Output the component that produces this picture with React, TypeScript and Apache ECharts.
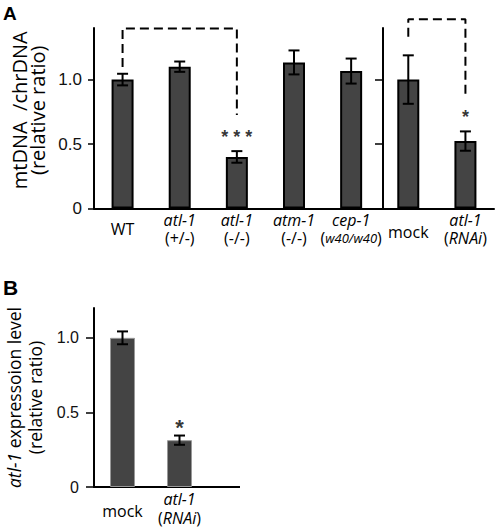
import React, { useEffect, useRef } from "react";
import * as echarts from "echarts";

// ---------- Panel A data ----------
const categoriesA = ["WT", "atl-1 (+/-)", "atl-1 (-/-)", "atm-1 (-/-)", "cep-1 (w40/w40)", "mock", "atl-1 (RNAi)"];
const valuesA = [1.0, 1.1, 0.4, 1.133, 1.066, 1.0, 0.523];
const errorsA = [0.045, 0.04, 0.045, 0.093, 0.097, 0.188, 0.075];
const starsA = ["", "", "* * *", "", "", "", "*"];
const bracketA1 = [[0, 1.097], [0, 1.397], [2, 1.397], [2, 0.725]];
const bracketA2 = [[5, 1.332], [5, 1.467], [6, 1.467], [6, 0.867]];
const ticksA = [0, 0.5, 1.0];

// ---------- Panel B data ----------
const categoriesB = ["mock", "atl-1 (RNAi)"];
const valuesB = [1.0, 0.314];
const errorsB = [0.043, 0.031];
const starsB = ["", "*"];
const ticksB = [0, 0.5, 1.0];

const SANS = "Open Sans";
const ARIAL = "Liberation Sans";

const labelRich: any = {
  it: { fontFamily: SANS, fontStyle: "italic", fontSize: 16, lineHeight: 18.5, color: "#000" },
  n: { fontFamily: SANS, fontSize: 16, lineHeight: 18.5, color: "#000" },
  sm: { fontFamily: SANS, fontStyle: "italic", fontSize: 13, lineHeight: 18.5, color: "#000" },
  wt: { fontFamily: SANS, fontSize: 16, lineHeight: 37, color: "#000" },
  mk: { fontFamily: SANS, fontSize: 16, lineHeight: 42, color: "#000" },
};

function catLabel(name: string): string {
  const m = name.match(/^(\S+)\s*\((.*)\)$/);
  if (!m) {
    return name === "WT" ? `{wt|${name}}` : `{mk|${name}}`;
  }
  const gene = m[1];
  const gt = m[2];
  if (gt === "w40/w40") return `{it|${gene}}\n{n|(}{sm|${gt}}{n|)}`;
  if (gt === "RNAi") return `{it|${gene}}\n{n|(}{it|${gt}}{n|)}`;
  return `{it|${gene}}\n{n|(${gt})}`;
}

function errRender(cap: number) {
  return (params: any, api: any) => {
    const x = api.value(0);
    const v = api.value(1);
    const e = api.value(2);
    const top = api.coord([x, v + e]);
    const bot = api.coord([x, v - e]);
    const style = { stroke: "#000", lineWidth: 2 };
    const h = cap / 2;
    return {
      type: "group",
      children: [
        { type: "line", shape: { x1: top[0], y1: top[1], x2: bot[0], y2: bot[1] }, style },
        { type: "line", shape: { x1: top[0] - h, y1: top[1], x2: top[0] + h, y2: top[1] }, style },
        { type: "line", shape: { x1: bot[0] - h, y1: bot[1], x2: bot[0] + h, y2: bot[1] }, style },
      ],
    };
  };
}

const tickFmt = (v: number) => (v === 0 ? "0" : v.toFixed(1));

export default function App() {
  const ref = useRef<HTMLDivElement>(null);
  useEffect(() => {
    if (!ref.current) return;
    const chart = echarts.init(ref.current, null, { renderer: "svg" });
    const gridA = { left: 94, top: 28, width: 400, height: 180.5 };
    const gridB = { left: 94, top: 308, width: 114, height: 179 };
    const option: any = {
      animation: false,
      backgroundColor: "#fff",
      grid: [gridA, gridB],
      xAxis: [
        {
          gridIndex: 0,
          type: "category",
          data: categoriesA,
          axisLine: { show: true, onZero: false, lineStyle: { color: "#000", width: 2 } },
          axisTick: { show: false },
          axisLabel: { interval: 0, margin: 2, formatter: (v: string) => catLabel(v), rich: labelRich },
        },
        {
          gridIndex: 1,
          type: "category",
          data: categoriesB,
          axisLine: { show: true, onZero: false, lineStyle: { color: "#000", width: 2 } },
          axisTick: { show: false },
          axisLabel: { interval: 0, margin: 3, formatter: (v: string) => catLabel(v), rich: labelRich },
        },
      ],
      yAxis: [
        {
          gridIndex: 0,
          type: "value",
          min: 0,
          max: 1.4,
          position: "left",
          axisLine: { show: true, lineStyle: { color: "#000", width: 2 } },
          axisTick: { show: true, length: 6, customValues: ticksA, lineStyle: { color: "#000", width: 1.5 } },
          axisLabel: {
            customValues: ticksA,
            formatter: tickFmt,
            margin: 12,
            fontFamily: ARIAL,
            fontSize: 17,
            color: "#111",
          },
          splitLine: { show: false },
          name: "mtDNA  /chrDNA\n(relative ratio)",
          nameLocation: "middle",
          nameRotate: 90,
          nameGap: 39,
          nameTextStyle: {
            fontFamily: SANS,
            fontSize: 20,
            lineHeight: 17.5,
            color: "#000",
            padding: [0, 0, 0, 16],
          },
        },
        {
          gridIndex: 0,
          type: "value",
          min: 0,
          max: 1.4,
          position: "right",
          offset: -111,
          axisLine: { show: true, lineStyle: { color: "#000", width: 2 } },
          axisTick: { show: true, inside: true, length: 8, customValues: [0.5, 1.0], lineStyle: { color: "#000", width: 1.5 } },
          axisLabel: { show: false },
          splitLine: { show: false },
        },
        {
          gridIndex: 1,
          type: "value",
          min: 0,
          max: 1.2,
          position: "left",
          axisLine: { show: true, lineStyle: { color: "#000", width: 2 } },
          axisTick: { show: true, length: 8, customValues: ticksB, lineStyle: { color: "#000", width: 1.5 } },
          axisLabel: {
            customValues: ticksB,
            formatter: tickFmt,
            margin: 15,
            fontFamily: ARIAL,
            fontSize: 16,
            color: "#111",
          },
          splitLine: { show: false },
          name: "{i|atl-1} expressoion level\n(relative ratio)",
          nameLocation: "middle",
          nameRotate: 90,
          nameGap: 49,
          nameTextStyle: {
            fontFamily: SANS,
            fontSize: 17.5,
            lineHeight: 21,
            color: "#000",
            rich: { i: { fontFamily: SANS, fontStyle: "italic", fontSize: 17.5, lineHeight: 21, color: "#000" } },
          },
        },
      ],
      series: [
        {
          type: "bar",
          xAxisIndex: 0,
          yAxisIndex: 0,
          data: valuesA,
          barWidth: 22,
          itemStyle: { color: "#444", borderColor: "#000", borderWidth: 2 },
          silent: true,
        },
        {
          type: "custom",
          xAxisIndex: 0,
          yAxisIndex: 0,
          renderItem: errRender(11),
          data: valuesA.map((v, i) => [i, v, errorsA[i]]),
          encode: { x: 0, y: 1 },
          z: 5,
          silent: true,
        },
        {
          type: "scatter",
          xAxisIndex: 0,
          yAxisIndex: 0,
          symbolSize: 1,
          itemStyle: { color: "rgba(0,0,0,0)" },
          data: valuesA
            .map((v, i) => ({ value: [i, v + errorsA[i]], s: starsA[i] }))
            .filter((d) => d.s)
            .map((d) => ({ value: d.value, label: { formatter: d.s } })),
          label: {
            show: true,
            position: "top",
            distance: 5,
            fontFamily: ARIAL,
            fontWeight: "bold",
            fontSize: 18,
            color: "#000",
          },
          silent: true,
        },
        {
          type: "line",
          xAxisIndex: 0,
          yAxisIndex: 0,
          data: bracketA1,
          symbol: "none",
          clip: false,
          lineStyle: { color: "#000", width: 2, type: [9, 5] },
          silent: true,
        },
        {
          type: "line",
          xAxisIndex: 0,
          yAxisIndex: 0,
          data: bracketA2,
          symbol: "none",
          clip: false,
          lineStyle: { color: "#000", width: 2, type: [9, 5] },
          silent: true,
        },
        {
          type: "bar",
          xAxisIndex: 1,
          yAxisIndex: 2,
          data: valuesB,
          barWidth: 25,
          itemStyle: { color: "#444", borderColor: "#999", borderWidth: 1 },
          silent: true,
        },
        {
          type: "custom",
          xAxisIndex: 1,
          yAxisIndex: 2,
          renderItem: errRender(11),
          data: valuesB.map((v, i) => [i, v, errorsB[i]]),
          encode: { x: 0, y: 1 },
          z: 5,
          silent: true,
        },
        {
          type: "scatter",
          xAxisIndex: 1,
          yAxisIndex: 2,
          symbolSize: 1,
          itemStyle: { color: "rgba(0,0,0,0)" },
          data: valuesB
            .map((v, i) => ({ value: [i, v + errorsB[i]], s: starsB[i] }))
            .filter((d) => d.s)
            .map((d) => ({ value: d.value, label: { formatter: d.s } })),
          label: {
            show: true,
            position: "top",
            distance: -3,
            fontFamily: ARIAL,
            fontWeight: "bold",
            fontSize: 22,
            color: "#000",
          },
          silent: true,
        },
      ],
      graphic: [
        {
          type: "text",
          left: 3,
          top: 4,
          style: { text: "A", fontFamily: ARIAL, fontWeight: "bold", fontSize: 19, fill: "#000" },
        },
        {
          type: "text",
          left: 3,
          top: 277,
          style: { text: "B", fontFamily: ARIAL, fontWeight: "bold", fontSize: 21, fill: "#000" },
        },
        {
          type: "line",
          shape: {
            x1: gridB.left + gridB.width - 1,
            y1: gridB.top + gridB.height,
            x2: 240,
            y2: gridB.top + gridB.height,
          },
          style: { stroke: "#000", lineWidth: 2 },
        },
      ],
    };
    chart.setOption(option);
    return () => chart.dispose();
  }, []);
  return (
    <div
      ref={ref}
      style={{ position: "absolute", left: 0, top: 0, width: 498, height: 529, background: "#fff" }}
    />
  );
}
